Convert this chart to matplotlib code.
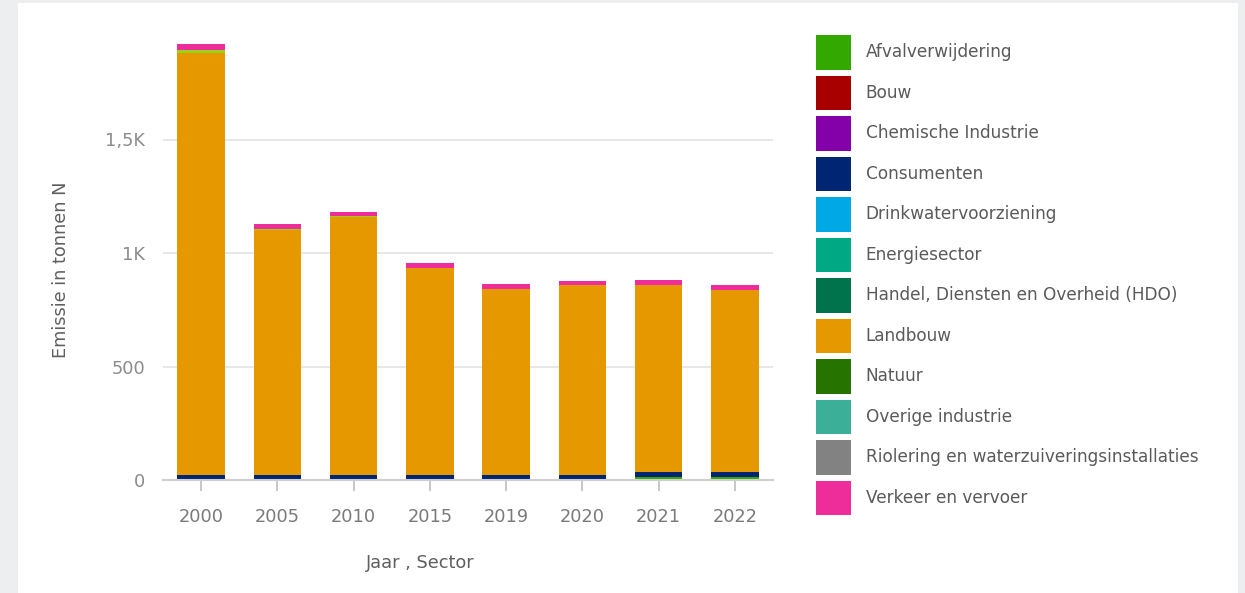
import numpy as np
import matplotlib.pyplot as plt
from matplotlib.patches import Rectangle, Patch

# -----------------------------
# Data (emissie in tonnen N)
# -----------------------------
jaren = ["2000", "2005", "2010", "2015", "2019", "2020", "2021", "2022"]

afvalverwijdering = [0, 0, 0, 0, 0, 0, 12, 12]
bouw = [0, 0, 0, 0, 0, 0, 0, 0]
chemische_industrie = [0, 0, 0, 0, 0, 0, 0, 0]
consumenten = [20, 20, 20, 20, 24, 24, 22, 22]
drinkwater = [0, 0, 0, 0, 0, 0, 0, 0]
energiesector = [0, 0, 0, 0, 0, 0, 0, 0]
hdo = [0, 0, 0, 0, 0, 0, 0, 0]
landbouw = [1860, 1082, 1140, 912, 816, 834, 824, 802]
natuur = [0, 0, 0, 0, 0, 0, 0, 0]
overige_industrie = [0, 0, 0, 0, 0, 0, 0, 0]
riolering = [0, 0, 0, 0, 0, 0, 0, 0]
overig_licht = [16, 4, 2, 3, 2, 2, 2, 2]   # lichtgroen segment zonder legenda
verkeer = [25, 22, 19, 21, 21, 17, 21, 21]

sectoren = ["Afvalverwijdering", "Bouw", "Chemische Industrie", "Consumenten",
            "Drinkwatervoorziening", "Energiesector",
            "Handel, Diensten en Overheid (HDO)", "Landbouw", "Natuur",
            "Overige industrie", "Riolering en waterzuiveringsinstallaties",
            "Verkeer en vervoer"]
kleuren = ["#33a800", "#a80000", "#8400a8", "#002673", "#00a9e6", "#00a884",
           "#00734c", "#e69800", "#267300", "#3caf99", "#828282", "#ee2d9b"]

# stapelvolgorde van onder naar boven
stapel = [
    (afvalverwijdering, "#33a800"),
    (consumenten, "#002673"),
    (landbouw, "#e69800"),
    (overig_licht, "#98d419"),
    (verkeer, "#ee2d9b"),
]

# -----------------------------
# Figure
# -----------------------------
fig = plt.figure(figsize=(12.45, 5.93), dpi=100, facecolor="#eceef0")
fig.patches.append(Rectangle((18 / 1245, 0), 1220 / 1245, 590 / 593,
                             transform=fig.transFigure, facecolor="white",
                             edgecolor="none", zorder=-5))

ax = fig.add_axes([163 / 1245, 1 - 480 / 593, 610 / 1245, 454 / 593])
ax.set_facecolor("none")

x = np.arange(len(jaren))
bottom = np.zeros(len(jaren))
for waarden, kleur in stapel:
    ax.bar(x, waarden, bottom=bottom, width=0.62, color=kleur, zorder=3)
    bottom += np.array(waarden)

ax.set_xlim(-0.5, len(jaren) - 0.5)
ax.set_ylim(0, 2000)
ax.set_yticks([0, 500, 1000, 1500])
ax.set_yticklabels(["0", "500", "1K", "1,5K"])
ax.set_xticks(x)
ax.set_xticklabels(jaren)

ax.grid(axis="y", color="#e3e3e3", linewidth=1.2, zorder=0)
for s in ["top", "right", "left"]:
    ax.spines[s].set_visible(False)
ax.spines["bottom"].set_color("#cfcfcf")
ax.spines["bottom"].set_linewidth(1.5)
ax.spines["bottom"].set_zorder(4)

ax.tick_params(axis="y", length=0, pad=13, labelsize=12.8, labelcolor="#8c8c8c")
ax.tick_params(axis="x", length=8, width=1.2, color="#bdbdbd", pad=12,
               labelsize=12.8, labelcolor="#7a7a7a")

ax.set_ylabel("Emissie in tonnen N", fontsize=12.8, color="#5f5f5f")
ax.yaxis.set_label_coords(-0.153, 0.463)
ax.set_xlabel("Jaar , Sector", fontsize=12.8, color="#5f5f5f")
ax.xaxis.set_label_coords(0.421, -0.163)

# -----------------------------
# Legend
# -----------------------------
handles = [Patch(facecolor=k, edgecolor="none") for k in kleuren]
fig.legend(handles, sectoren, loc="upper left",
           bbox_to_anchor=(816 / 1245, 1 - 35 / 593),
           frameon=False, fontsize=12.2, labelcolor="#5a5a5a",
           handlelength=2.06, handleheight=2.77, handletextpad=0.88,
           labelspacing=0.345, borderpad=0, borderaxespad=0)

plt.savefig("out.png", dpi=100, facecolor=fig.get_facecolor())
